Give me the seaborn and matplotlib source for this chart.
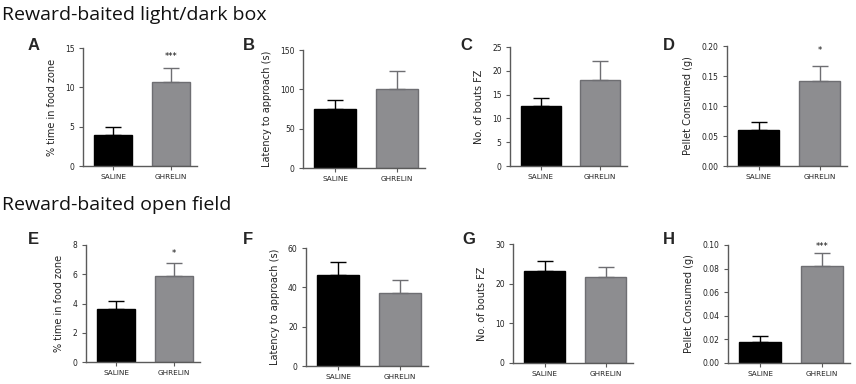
import matplotlib
matplotlib.use("Agg")
import matplotlib.pyplot as plt
import seaborn as sns
import pandas as pd

sns.set_theme(style="white")
plt.rcParams['font.family'] = ['DejaVu Sans']

groups = ["SALINE", "GHRELIN"]
bar_colors = ["#000000", "#8d8c91"]
edge_colors = ["#000000", "#6e6e72"]

panel_letters = ["A", "B", "C", "D", "E", "F", "G", "H"]
ylabels = ["% time in food zone", "Latency to approach (s)", "No. of bouts FZ",
           "Pellet Consumed (g)"] * 2
means = [
    [4.0, 10.7],
    [75, 100],
    [12.6, 18.0],
    [0.060, 0.142],
    [3.65, 5.9],
    [46.5, 37.0],
    [23.2, 21.6],
    [0.0175, 0.082],
]
sems = [
    [1.0, 1.7],
    [12, 23],
    [1.7, 4.0],
    [0.013, 0.025],
    [0.5, 0.85],
    [6.5, 6.5],
    [2.6, 2.7],
    [0.0055, 0.011],
]
ymax = [15, 150, 25, 0.20, 8, 60, 30, 0.10]
yticks = [
    [0, 5, 10, 15],
    [0, 50, 100, 150],
    [0, 5, 10, 15, 20, 25],
    [0.00, 0.05, 0.10, 0.15, 0.20],
    [0, 2, 4, 6, 8],
    [0, 20, 40, 60],
    [0, 10, 20, 30],
    [0.00, 0.02, 0.04, 0.06, 0.08, 0.10],
]
tick_fmt = ["{:.0f}", "{:.0f}", "{:.0f}", "{:.2f}", "{:.0f}", "{:.0f}", "{:.0f}", "{:.2f}"]
stars = ["***", "", "", "*", "*", "", "", "***"]
star_y = [13.9, None, None, 0.192, 7.45, None, None, 0.0985]
section_titles = ["Reward-baited light/dark box", "Reward-baited open field"]

W, H = 856, 384
fig = plt.figure(figsize=(W / 100, H / 100), dpi=100)

# axes boxes in pixels: left, right, top, bottom
boxes = [
    (83, 197, 48, 166),
    (303, 425, 50, 168),
    (510, 627, 47, 166),
    (727, 847, 46, 166),
    (86, 200, 245, 362),
    (306, 428, 248, 366),
    (513, 633, 244, 363),
    (728, 850, 245, 363),
]
letter_pos = [(28, 45), (243, 45), (460, 45), (663, 45),
              (28, 240), (243, 240), (462, 240), (663, 240)]
title_pos = [(2, 15), (2, 205)]

spine_col = "#5a5a5a"

for i in range(8):
    l, r, t, b = boxes[i]
    ax = fig.add_axes([l / W, 1 - b / H, (r - l) / W, (b - t) / H])
    df = pd.DataFrame({"group": groups, "value": means[i]})
    sns.barplot(data=df, x="group", y="value", hue="group", palette=bar_colors,
                width=0.67, legend=False, ax=ax, linewidth=1.0, edgecolor=None)
    for j, p in enumerate(ax.patches):
        p.set_edgecolor(edge_colors[j])
        p.set_linewidth(1.0)
    for j in range(2):
        ax.errorbar(j, means[i][j], yerr=[[0], [sems[i][j]]], fmt="none",
                    ecolor=edge_colors[j], elinewidth=1.0, capsize=6, capthick=1.0)
    if stars[i]:
        ax.text(1, star_y[i], stars[i], ha="center", va="center", fontsize=6,
                color="#111111")
    ax.set_xlim(-0.52, 1.45)
    ax.set_ylim(0, ymax[i])
    ax.set_yticks(yticks[i])
    ax.set_yticklabels([tick_fmt[i].format(v) for v in yticks[i]])
    ax.set_xlabel("")
    ax.set_ylabel(ylabels[i], fontsize=7, color="#222222", labelpad=6)
    sns.despine(ax=ax)
    for s in ["left", "bottom"]:
        ax.spines[s].set_color(spine_col)
        ax.spines[s].set_linewidth(1.0)
    ax.tick_params(axis="both", direction="out", length=3, width=0.8,
                   color=spine_col, labelsize=5.5, labelcolor="#222222", pad=3,
                   left=True, bottom=True)
    ax.tick_params(axis="x", labelsize=5.2, pad=3)
    fig.text(letter_pos[i][0] / W, 1 - letter_pos[i][1] / H, panel_letters[i],
             fontsize=12, fontweight="bold", family="Liberation Sans",
             ha="left", va="center")

for k in range(2):
    fig.text(title_pos[k][0] / W, 1 - title_pos[k][1] / H, section_titles[k],
             fontsize=14, family="Open Sans", ha="left", va="center", color="#111111")

fig.savefig("out.png", dpi=100)
